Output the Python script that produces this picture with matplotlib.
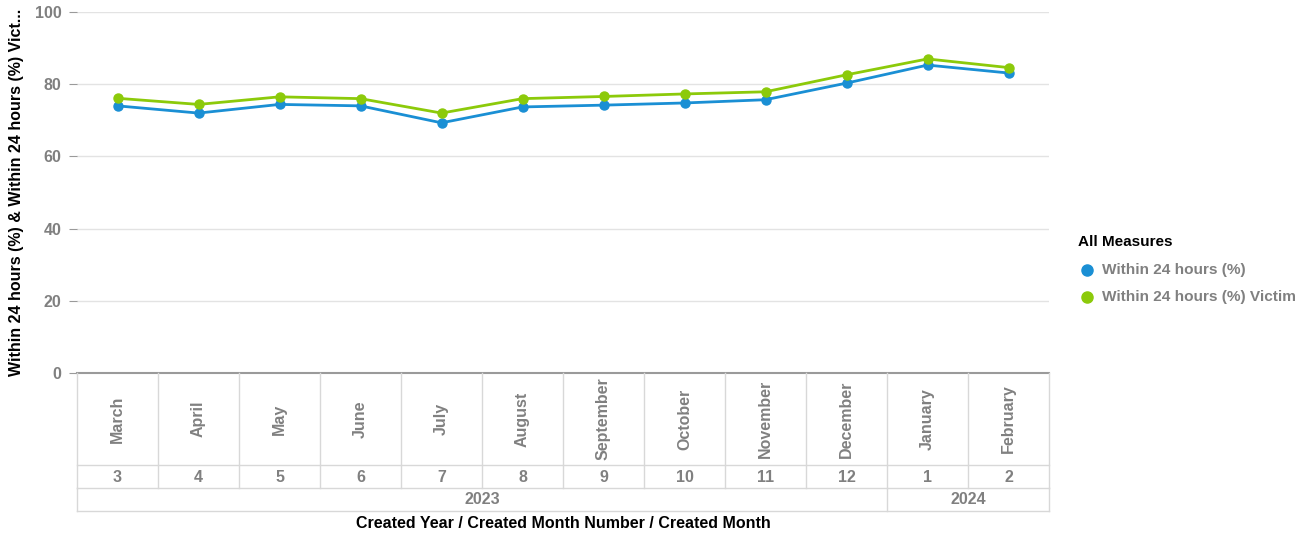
import matplotlib
matplotlib.use("Agg")
import matplotlib.pyplot as plt

months = ["March", "April", "May", "June", "July", "August", "September",
          "October", "November", "December", "January", "February"]
month_numbers = ["3", "4", "5", "6", "7", "8", "9", "10", "11", "12", "1", "2"]
years = ["2023"] * 10 + ["2024"] * 2
within_24h = [74.0, 72.0, 74.4, 74.0, 69.3, 73.7, 74.2, 74.8, 75.7, 80.3, 85.3, 83.1]
within_24h_victim = [76.1, 74.4, 76.5, 76.0, 72.0, 76.0, 76.6, 77.3, 77.9, 82.6, 87.0, 84.6]
series_names = ["Within 24 hours (%)", "Within 24 hours (%) Victim"]
colors = ["#1a8fd4", "#8cca0a"]

plt.rcParams['font.family'] = ['Liberation Sans', 'DejaVu Sans']
plt.rcParams['font.weight'] = 'bold'
GRAY = "#808080"
FS = 11.5

W, H = 1316, 535
fig = plt.figure(figsize=(W / 100, H / 100), dpi=100)

def fx(px):
    return px / W

def fy(py):
    return 1 - py / H

L, R, T, B = 77, 1049, 12, 373
ax = fig.add_axes([fx(L), fy(B), fx(R - L), (B - T) / H])
x = list(range(len(months)))
for vals, c, name in zip([within_24h, within_24h_victim], colors, series_names):
    ax.plot(x, vals, color=c, lw=2.0, marker='o', ms=6.5, label=name, zorder=3)

ax.set_xlim(-0.5, len(months) - 0.5)
ax.set_ylim(0, 100)
ax.set_yticks([0, 20, 40, 60, 80, 100])
ax.yaxis.grid(True, color="#e3e3e3", lw=1)
ax.set_axisbelow(True)
for s in ["top", "right", "left"]:
    ax.spines[s].set_visible(False)
ax.spines["bottom"].set_color("#9a9a9a")
ax.spines["bottom"].set_linewidth(1.5)
ax.set_xticks([])
ax.tick_params(axis='y', length=6, color="#9a9a9a", pad=5, labelsize=FS, labelcolor=GRAY)
for t in ax.get_yticklabels():
    t.set_fontweight('bold')
ax.set_ylabel("Within 24 hours (%) & Within 24 hours (%) Vict...", fontsize=FS,
              fontweight='bold', color="black")
ax.yaxis.set_label_coords(-(L - 17) / (R - L), 0.5)
ax.yaxis.label.set_va('center')

# category table below
tb = fig.add_axes([fx(L), fy(511), fx(R - L), (511 - B) / H])
tb.set_xlim(-0.5, len(months) - 0.5)
tb.set_ylim(138, 0)
tb.axis('off')
lc = "#d8d8d8"
n = len(months)
for i in range(n + 1):
    xb = i - 0.5
    tb.plot([xb, xb], [0, 115], color=lc, lw=1, clip_on=False)
bounds = [-0.5]
for i in range(1, n):
    if years[i] != years[i - 1]:
        bounds.append(i - 0.5)
bounds.append(n - 0.5)
for xb in bounds:
    tb.plot([xb, xb], [115, 138], color=lc, lw=1, clip_on=False)
for yb in [92, 115, 138]:
    tb.plot([-0.5, n - 0.5], [yb, yb], color=lc, lw=1, clip_on=False)

for i, (m, num) in enumerate(zip(months, month_numbers)):
    tb.text(i, 46, m, rotation=90, ha='center', va='center', fontsize=FS,
            fontweight='bold', color=GRAY)
    tb.text(i, 104, num, ha='center', va='center', fontsize=FS,
            fontweight='bold', color=GRAY)
for a, b in zip(bounds[:-1], bounds[1:]):
    yr = years[int(a + 0.5)]
    tb.text((a + b) / 2, 127, yr, ha='center', va='center', fontsize=FS,
            fontweight='bold', color=GRAY)

fig.text(fx((L + R) / 2), fy(524), "Created Year / Created Month Number / Created Month",
         ha='center', va='center', fontsize=FS, fontweight='bold', color='black')

# legend
fig.text(fx(1078), fy(242), "All Measures", ha='left', va='center', fontsize=11,
         fontweight='bold', color='black')
for k, (name, c) in enumerate(zip(series_names, colors)):
    yy = 270 + k * 27
    fig.lines.append(plt.Line2D([fx(1087)], [fy(yy)], marker='o', ms=8, color=c,
                                transform=fig.transFigure))
    fig.text(fx(1102), fy(yy), name, ha='left', va='center', fontsize=11.1,
             fontweight='bold', color=GRAY)

fig.savefig("out.png", dpi=100)
